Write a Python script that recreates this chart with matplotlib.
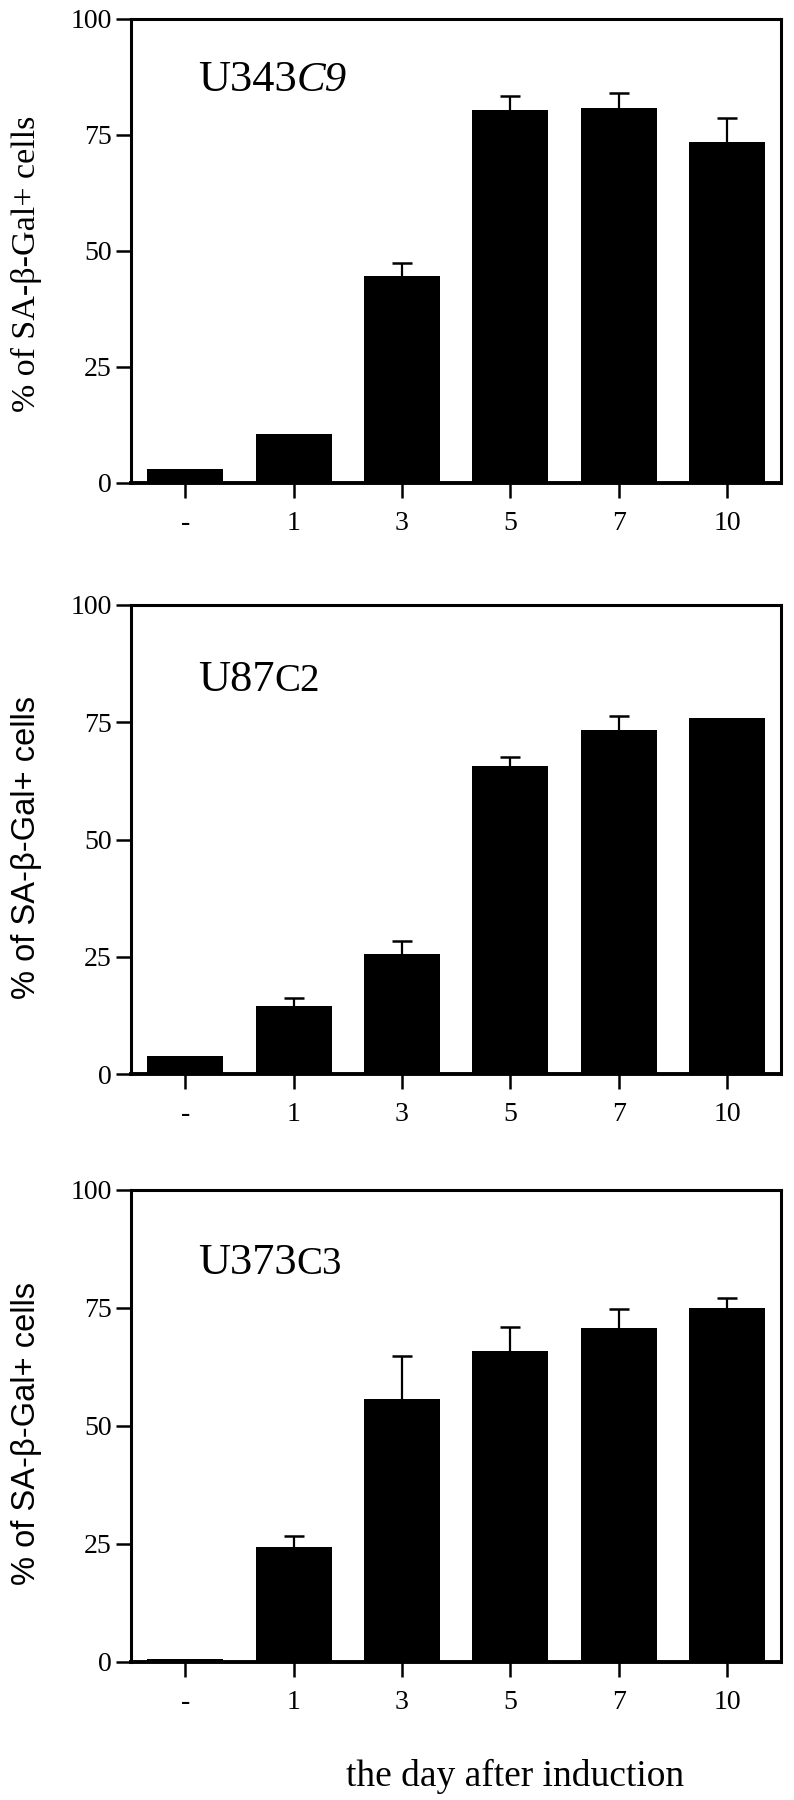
import matplotlib.pyplot as plt

SERIF = ['Liberation Serif', 'DejaVu Serif']
SANS = ['Liberation Sans', 'DejaVu Sans']

days = ['-', '1', '3', '5', '7', '10']
yticks = [0, 25, 50, 75, 100]

# mean % of SA-beta-Gal+ cells and the upper error (SD) for each cell line
u343_mean = [3.0, 10.5, 44.7, 80.3, 80.7, 73.5]
u343_err = [0, 0, 2.6, 3.0, 3.3, 5.2]
u87_mean = [3.8, 14.5, 25.7, 65.7, 73.3, 75.8]
u87_err = [0, 1.8, 2.6, 1.9, 3.0, 0]
u373_mean = [0.7, 24.3, 55.8, 65.9, 70.7, 75.0]
u373_err = [0, 2.3, 9.0, 5.0, 4.1, 2.1]

fig = plt.figure(figsize=(7.94, 18), dpi=100)
renderer = fig.canvas.get_renderer()

panels = [
    # axes rect, means, errors, label parts, title y, ylabel font/size, ylabel y
    ([0.165, 0.7317, 0.819, 0.2578], u343_mean, u343_err, ('U343', 'C9', 'italic', 31), 0.845, SERIF, 24.5, 0.472),
    ([0.165, 0.4033, 0.819, 0.2606], u87_mean, u87_err, ('U87', 'C2', 'normal', 28), 0.817, SANS, 23.5, 0.482),
    ([0.165, 0.0767, 0.819, 0.2622], u373_mean, u373_err, ('U373', 'C3', 'normal', 28), 0.822, SANS, 23.5, 0.483),
]

for rect, means, errs, (name, clone, cstyle, csize), ty, yfont, ysize, ly in panels:
    ax = fig.add_axes(rect)
    x = list(range(len(days)))
    ax.bar(x, means, width=0.7, color='black', zorder=2)

    # upper error bars only: stem plus a cap
    ex = [xi for xi, e in zip(x, errs) if e > 0]
    lo = [m for m, e in zip(means, errs) if e > 0]
    hi = [m + e for m, e in zip(means, errs) if e > 0]
    ax.vlines(ex, lo, hi, color='black', linewidth=1.6, zorder=1)
    ax.plot(ex, hi, linestyle='none', marker='_', markersize=14,
            markeredgewidth=1.8, color='black', zorder=1)

    ax.set_xlim(-0.5, 5.5)
    ax.set_ylim(0, 100)
    ax.set_xticks(x)
    ax.set_xticklabels(days, family=SERIF, fontsize=20)
    ax.set_yticks(yticks)
    ax.set_yticklabels([str(v) for v in yticks], family=SERIF, fontsize=20)
    ax.tick_params(axis='both', direction='out', length=11, width=1.8, colors='black')
    ax.tick_params(axis='x', pad=9)
    ax.tick_params(axis='y', pad=3)
    for sp in ax.spines.values():
        sp.set_linewidth(2.2)
    ax.spines['bottom'].set_linewidth(2.8)

    ax.text(-0.16, ly, '% of SA-β-Gal+ cells', transform=ax.transAxes, rotation=90,
            ha='center', va='center', fontsize=ysize, family=yfont)

    # cell line name, clone number set in a different style
    t = ax.text(0.103, ty, name, transform=ax.transAxes, va='baseline',
                fontsize=32, family=SERIF)
    bb = t.get_window_extent(renderer)
    x1 = ax.transAxes.inverted().transform((bb.x1, bb.y0))[0]
    ax.text(x1, ty, clone, transform=ax.transAxes, va='baseline',
            fontsize=csize, family=SERIF, style=cstyle)

fig.text(0.649, 0.0078, 'the day after induction', ha='center', va='baseline',
         fontsize=27, family=SERIF)

fig.savefig('out.png', dpi=100)
